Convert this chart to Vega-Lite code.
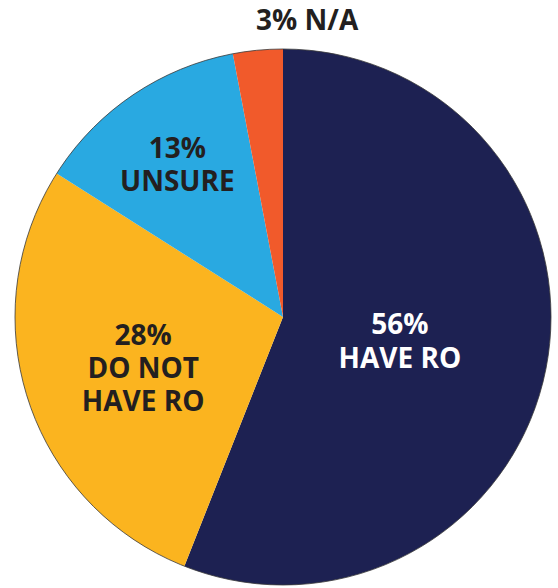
{
  "$schema": "https://vega.github.io/schema/vega-lite/v6.json",
  "width": 536,
  "height": 538,
  "autosize": {"type": "none"},
  "padding": {"left": 15, "top": 48, "right": 7, "bottom": 2},
  "background": "#ffffff",
  "config": {"view": {"stroke": null}},
  "data": {
    "values": [
      {"cat": "HAVE RO", "value": 56, "order": 1, "label": "56%\nHAVE RO"},
      {"cat": "DO NOT HAVE RO", "value": 28, "order": 2, "label": "28%\nDO NOT\nHAVE RO"},
      {"cat": "UNSURE", "value": 13, "order": 3, "label": "13%\nUNSURE"},
      {"cat": "N/A", "value": 3, "order": 4, "label": "3% N/A"}
    ]
  },
  "layer": [
    {
      "mark": {"type": "arc", "radius": 268},
      "encoding": {
        "theta": {"field": "value", "type": "quantitative", "stack": true},
        "order": {"field": "order", "type": "quantitative"},
        "color": {
          "field": "cat",
          "type": "nominal",
          "scale": {
            "domain": ["HAVE RO", "DO NOT HAVE RO", "UNSURE", "N/A"],
            "range": ["#1d2152", "#fbb41f", "#29a9e1", "#f15a2b"]
          },
          "legend": null
        }
      }
    },
    {
      "data": {"values": [{"k": 1}]},
      "mark": {"type": "arc", "radius": 268, "theta": 0, "theta2": 6.2832, "fill": null, "stroke": "#3a3a3a", "strokeWidth": 1, "strokeOpacity": 0.8},
      "encoding": {}
    },
    {
      "mark": {"type": "text", "radius": 119, "dy": -13, "font": "Open Sans", "fontWeight": "bold", "fontSize": 28, "lineHeight": 34, "lineBreak": "\n", "align": "center", "baseline": "middle", "color": "#ffffff"},
      "encoding": {
        "theta": {"field": "value", "type": "quantitative", "stack": true},
        "order": {"field": "order", "type": "quantitative"},
        "detail": {"field": "cat", "type": "nominal"},
        "text": {"condition": {"test": "datum.cat === 'HAVE RO'", "field": "label"}, "value": ""}
      }
    },
    {
      "mark": {"type": "text", "radius": 147, "dy": -25, "font": "Open Sans", "fontWeight": "bold", "fontSize": 28, "lineHeight": 33, "lineBreak": "\n", "align": "center", "baseline": "middle", "color": "#231f20"},
      "encoding": {
        "theta": {"field": "value", "type": "quantitative", "stack": true},
        "order": {"field": "order", "type": "quantitative"},
        "detail": {"field": "cat", "type": "nominal"},
        "text": {"condition": {"test": "datum.cat === 'DO NOT HAVE RO'", "field": "label"}, "value": ""}
      }
    },
    {
      "mark": {"type": "text", "radius": 188, "dy": -12, "font": "Open Sans", "fontWeight": "bold", "fontSize": 28, "lineHeight": 33, "lineBreak": "\n", "align": "center", "baseline": "middle", "color": "#231f20"},
      "encoding": {
        "theta": {"field": "value", "type": "quantitative", "stack": true},
        "order": {"field": "order", "type": "quantitative"},
        "detail": {"field": "cat", "type": "nominal"},
        "text": {"condition": {"test": "datum.cat === 'UNSURE'", "field": "label"}, "value": ""}
      }
    },
    {
      "mark": {"type": "text", "radius": 296, "dx": 52, "dy": 0, "font": "Open Sans", "fontWeight": "bold", "fontSize": 28, "align": "center", "baseline": "middle", "color": "#231f20"},
      "encoding": {
        "theta": {"field": "value", "type": "quantitative", "stack": true},
        "order": {"field": "order", "type": "quantitative"},
        "detail": {"field": "cat", "type": "nominal"},
        "text": {"condition": {"test": "datum.cat === 'N/A'", "field": "label"}, "value": ""}
      }
    }
  ]
}
